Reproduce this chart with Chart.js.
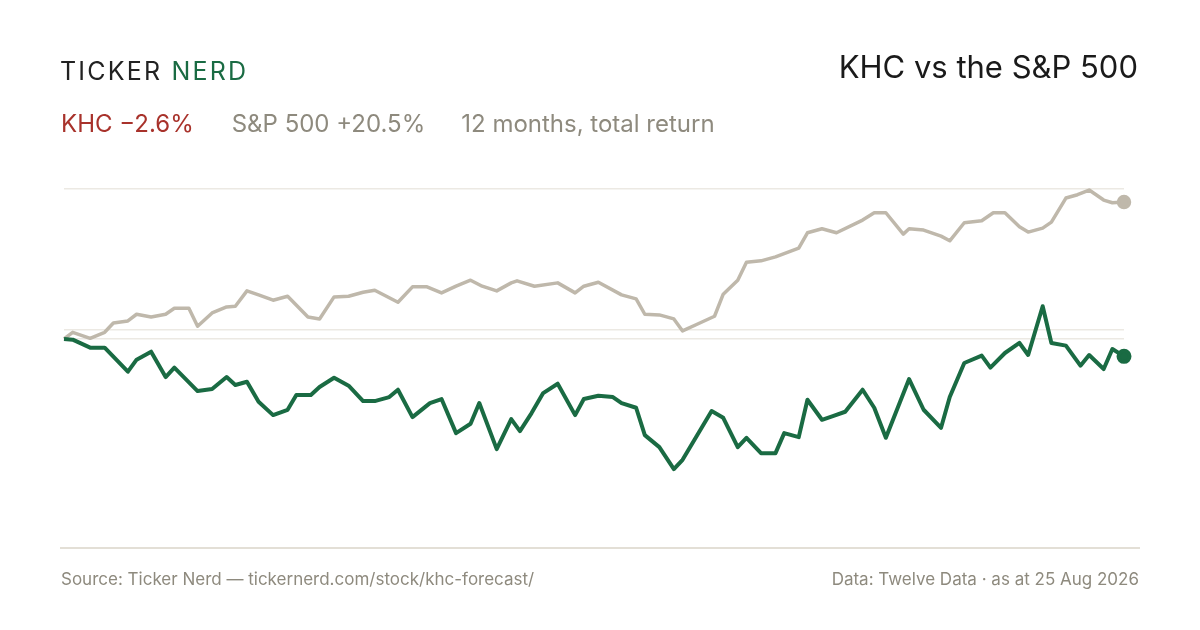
<!DOCTYPE html>
<html><head><meta charset="utf-8">
<script src="https://cdn.jsdelivr.net/npm/chart.js@4"></script>
<style>
body{margin:0;width:1200px;height:630px;background:#fff;font-family:Inter,"Noto Sans",sans-serif;position:relative;overflow:hidden}
#c{position:absolute;left:0;top:0}
.t{position:absolute;white-space:nowrap}
</style></head><body>
<canvas id="c" width="1200" height="630"></canvas>
<div class="t" style="left:60px;top:56px;font-size:25px;letter-spacing:2.2px;color:#222"><span>TICKER</span> <span style="color:#1a6b43">NERD</span></div>
<div class="t" style="right:62px;top:48px;font-size:31px;color:#1a1a1a">KHC vs the S&amp;P 500</div>
<div class="t" style="left:61px;top:109px;font-size:24px;color:#8e8a7e"><span style="color:#a8322b">KHC −2.6%</span><span style="margin-left:38px">S&amp;P 500 +20.5%</span><span style="margin-left:36px">12 months, total return</span></div>
<div style="position:absolute;left:60px;width:1080px;top:547px;height:2px;background:#e3dfd6"></div>
<div class="t" style="left:61px;top:569px;font-size:17px;color:#8e8a7e">Source: Ticker Nerd — tickernerd.com/stock/khc-forecast/</div>
<div class="t" style="right:61px;top:569px;font-size:17px;color:#8e8a7e">Data: Twelve Data · as at 25 Aug 2026</div>
<script>
const spxDays=[0,3,9,14,17,22,25,30,35,38,43,46,51,56,59,63,67,72,77,84,88,93,98,103,107,115,120,125,130,135,140,144,149,154,156,162,170,176,179,184,192,197,200,205,210,213,218,224,227,232,235,240,245,253,256,261,266,275,279,283,289,291,296,302,305,310,316,320,324,329,332,337,340,345,349,353,358,361,365];
const spxValues=[0,1.0,0.1,1.0,2.4,2.7,3.7,3.3,3.7,4.6,4.6,1.9,3.9,4.8,4.9,7.2,6.6,5.8,6.4,3.3,3.0,6.3,6.4,7.0,7.3,5.5,7.8,7.8,6.9,7.9,8.8,7.9,7.2,8.4,8.7,7.9,8.4,6.9,7.9,8.5,6.6,6.0,3.7,3.6,3.0,1.2,2.2,3.4,6.7,8.8,11.5,11.7,12.3,13.6,15.9,16.5,15.9,17.8,18.9,18.9,15.7,16.5,16.3,15.4,14.7,17.4,17.7,18.9,18.9,16.8,16.0,16.6,17.5,21.1,21.6,22.3,20.8,20.4,20.5];
const khcDays=[0,3,9,14,22,25,30,35,38,46,51,56,59,63,67,72,77,80,85,88,93,98,103,107,112,115,120,126,130,135,140,143,149,154,157,161,165,170,176,179,184,189,192,197,200,205,210,213,223,227,232,235,240,245,248,253,256,261,265,269,275,279,283,291,296,302,305,310,316,319,324,329,332,337,340,345,350,353,358,361,365];
const khcValues=[0,-0.1,-1.3,-1.3,-4.9,-3.1,-1.9,-5.7,-4.3,-7.8,-7.5,-5.7,-6.9,-6.4,-9.4,-11.4,-10.6,-8.4,-8.4,-7.2,-5.8,-7.0,-9.3,-9.3,-8.7,-7.6,-11.7,-9.6,-9.0,-14.1,-12.7,-9.6,-16.5,-12.0,-13.8,-11.1,-8.1,-6.7,-11.4,-9.0,-8.5,-8.7,-9.6,-10.3,-14.4,-16.2,-19.5,-18.1,-10.8,-11.8,-16.2,-14.8,-17.1,-17.1,-14.1,-14.7,-9.1,-12.1,-11.5,-10.9,-7.6,-10.3,-14.8,-6.0,-10.6,-13.3,-8.7,-3.6,-2.5,-4.3,-2.1,-0.6,-2.4,4.9,-0.6,-1.0,-4.0,-2.4,-4.5,-1.5,-2.6];
const gridTicks=[0,1.35,22.45];
const pts=(d,v)=>d.map((x,i)=>({x,y:v[i]}));
const lastDot=n=>ctx=>ctx.dataIndex===n-1?5.5:0;
new Chart(document.getElementById('c'),{type:'line',
data:{datasets:[
{data:pts(khcDays,khcValues),borderColor:'#1a6b43',backgroundColor:'#1a6b43',borderWidth:4,pointRadius:lastDot(khcDays.length),pointHoverRadius:0,tension:0,clip:false,borderJoinStyle:'round'},
{data:pts(spxDays,spxValues),borderColor:'#bfb8ab',backgroundColor:'#bfb8ab',borderWidth:3.5,pointRadius:lastDot(spxDays.length),pointHoverRadius:0,tension:0,clip:false,borderJoinStyle:'round'}
]},
options:{responsive:false,animation:false,events:[],
layout:{padding:{left:64,right:76,top:170,bottom:82}},
plugins:{legend:{display:false},tooltip:{enabled:false}},
scales:{
x:{type:'linear',min:0,max:365,display:false},
y:{min:-31.3,max:25.3,afterFit:s=>{s.width=0},afterBuildTicks:s=>{s.ticks=gridTicks.map(v=>({value:v}))},
ticks:{display:false},border:{display:false},grid:{color:'#ece9e3',lineWidth:1.5,drawTicks:false}}
}}});
</script>
</body></html>
